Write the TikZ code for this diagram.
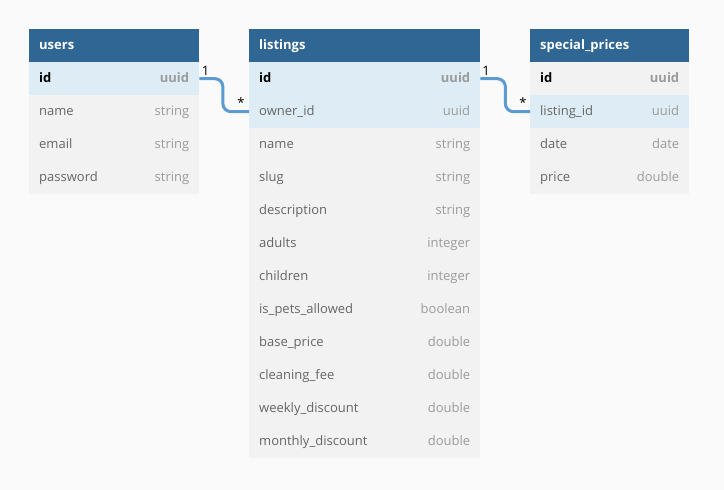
\documentclass[tikz,border=0pt]{standalone}
\usepackage{fontspec}
\setmainfont{Open Sans}

\definecolor{canvas}{HTML}{FAFAFA}
\definecolor{headblue}{HTML}{2F6694}
\definecolor{rowgrey}{HTML}{F2F2F2}
\definecolor{keyblue}{HTML}{DEEDF5}
\definecolor{fieldgrey}{HTML}{666666}
\definecolor{typegrey}{HTML}{9B9B9B}
\definecolor{linkblue}{HTML}{5B9BD1}

\newcommand{\fieldrow}[2]{\textcolor{fieldgrey}{#1}\hfill\textcolor{typegrey}{#2}}
\newcommand{\keyrow}[2]{\textbf{#1}\hfill\textcolor{typegrey}{\textbf{#2}}}

\tikzset{
  cell/.style={anchor=north west, minimum height=33pt, inner xsep=10pt, inner ysep=0pt,
    text height=10.5pt, text depth=2.5pt, text width=#1, font=\fontsize{13}{15}\selectfont},
  head/.style={cell=#1, fill=headblue, text=white, font=\fontsize{13}{15}\selectfont\bfseries},
  row/.style={cell=#1, fill=rowgrey},
  keyed/.style={cell=#1, fill=keyblue},
  link/.style={draw=linkblue, line width=3pt, rounded corners=8pt},
  card/.style={inner sep=0pt, font=\fontsize{13}{15}\selectfont}
}

\begin{document}
\begin{tikzpicture}[x=1pt, y=-1pt]
  \fill[canvas] (0,0) rectangle (724,490);
  \useasboundingbox (0,0) rectangle (724,490);

  % users
  \node[head=150pt] (u-head) at (29, 29) {users};
  \node[keyed=150pt] (u-id) at (29, 62) {\keyrow{id}{uuid}};
  \node[row=150pt] (u-name) at (29, 95) {\fieldrow{name}{string}};
  \node[row=150pt] (u-email) at (29, 128) {\fieldrow{email}{string}};
  \node[row=150pt] (u-pass) at (29, 161) {\fieldrow{password}{string}};

  % listings
  \node[head=211pt] (l-head) at (249, 29) {listings};
  \node[keyed=211pt] (l-id) at (249, 62) {\keyrow{id}{uuid}};
  \node[keyed=211pt] (l-owner) at (249, 95) {\fieldrow{owner\_id}{uuid}};
  \node[row=211pt] (l-name) at (249, 128) {\fieldrow{name}{string}};
  \node[row=211pt] (l-slug) at (249, 161) {\fieldrow{slug}{string}};
  \node[row=211pt] (l-desc) at (249, 194) {\fieldrow{description}{string}};
  \node[row=211pt] (l-adults) at (249, 227) {\fieldrow{adults}{integer}};
  \node[row=211pt] (l-child) at (249, 260) {\fieldrow{children}{integer}};
  \node[row=211pt] (l-pets) at (249, 293) {\fieldrow{is\_pets\_allowed}{boolean}};
  \node[row=211pt] (l-base) at (249, 326) {\fieldrow{base\_price}{double}};
  \node[row=211pt] (l-clean) at (249, 359) {\fieldrow{cleaning\_fee}{double}};
  \node[row=211pt] (l-week) at (249, 392) {\fieldrow{weekly\_discount}{double}};
  \node[row=211pt] (l-month) at (249, 425) {\fieldrow{monthly\_discount}{double}};

  % special_prices
  \node[head=139pt] (s-head) at (530, 29) {special\_prices};
  \node[row=139pt] (s-id) at (530, 62) {\keyrow{id}{uuid}};
  \node[keyed=139pt] (s-listing) at (530, 95) {\fieldrow{listing\_id}{uuid}};
  \node[row=139pt] (s-date) at (530, 128) {\fieldrow{date}{date}};
  \node[row=139pt] (s-price) at (530, 161) {\fieldrow{price}{double}};

  \draw[link] (u-id.east) -- ++(23.5,0) |- (l-owner.west);
  \draw[link] (l-id.east) -- ++(25,0) |- (s-listing.west);

  \node[card] (c-u1) at (205.5, 71) {1};
  \node[card] (c-lm) at (241, 103) {*};
  \node[card] (c-l1) at (486, 71) {1};
  \node[card] (c-sm) at (523, 103) {*};
\end{tikzpicture}
\end{document}
